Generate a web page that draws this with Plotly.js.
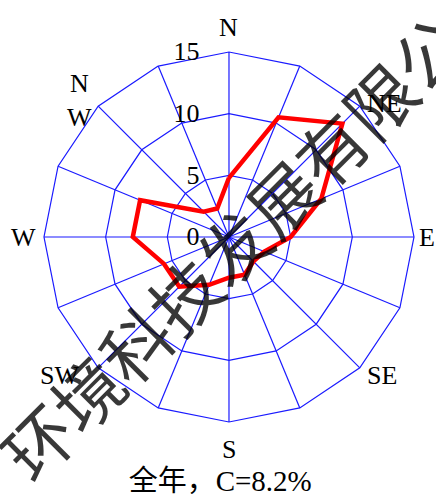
<!DOCTYPE html>
<html>
<head>
<meta charset="utf-8">
<script src="https://cdn.plot.ly/plotly-3.0.1.min.js"></script>
<style>
  html, body { margin: 0; padding: 0; background: #fff; }
  #chart { width: 436px; height: 499px; }
</style>
</head>
<body>
<div id="chart"></div>
<script>
// 16 wind directions (clockwise from north)
const directions = ['N','NNE','NE','ENE','E','ESE','SE','SSE','S','SSW','SW','WSW','W','WNW','NW','NNW'];
// wind direction frequency (%)
const frequency = [4.8, 10.5, 13.0, 8.1, 5.0, 3.1, 2.8, 3.3, 3.3, 4.2, 5.7, 5.7, 7.8, 7.8, 2.9, 2.5];
// labelled main directions and their text
const labelDirections = ['N','NE','E','SE','S','SW','W','NW'];
const labelTexts = ['N','NE','E','SE','S','SW','W','N<br>W'];
// radial ticks
const radialTicks = [0, 5, 10, 15];
const radialTickText = ['0', '5', '10', '15'];
const titleText = '全年，C=8.2%';
const watermarkText = '环境科技发展有限公司';

// close the loop
const rClosed = frequency.concat([frequency[0]]);
const thetaClosed = directions.concat([directions[0]]);

const W = 436, H = 499;
const serif = 'Liberation Serif, Times New Roman, Noto Sans CJK SC, serif';
const gridBlue = '#1a1aff';
const polarDomain = { x: [0.1009, 0.9495], y: [0.1543, 0.8958] };
// label placement: distance from centre relative to the outer ring, plus small pixel nudges
const labelOffset = [1.135, 1.10, 1.07, 1.11, 1.15, 1.18, 1.11, 1.10];
const labelNudgeX = [0, 12, 0, 8, 0, -15, 0, -6];
const labelNudgeY = [0, -10, 0, 7, 0, 16, 0, -7];

const cx = (polarDomain.x[0] + polarDomain.x[1]) / 2 * W;
const cy = (polarDomain.y[0] + polarDomain.y[1]) / 2 * H;
const outerR = Math.min((polarDomain.x[1] - polarDomain.x[0]) * W, (polarDomain.y[1] - polarDomain.y[0]) * H) / 2;
const dirAnnotations = labelDirections.map((d, i) => {
  const ang = directions.indexOf(d) * 22.5 * Math.PI / 180;
  const rr = outerR * labelOffset[i];
  return {
    text: labelTexts[i],
    xref: 'paper', yref: 'paper',
    x: (cx + rr * Math.sin(ang)) / W,
    y: (cy + rr * Math.cos(ang)) / H,
    xshift: labelNudgeX[i],
    yshift: labelNudgeY[i],
    xanchor: 'center', yanchor: 'middle',
    showarrow: false,
    font: { family: serif, size: 26, color: '#000' }
  };
});

const data = [{
  type: 'scatterpolar',
  mode: 'lines',
  r: rClosed,
  theta: thetaClosed,
  line: { color: '#ff0000', width: 4.5 },
  hoverinfo: 'skip',
  showlegend: false
}];

const layout = {
  width: W,
  height: H,
  margin: { l: 0, r: 0, t: 0, b: 0 },
  paper_bgcolor: '#ffffff',
  showlegend: false,
  title: {
    text: titleText,
    x: 0.505,
    xanchor: 'center',
    y: 0.036,
    yanchor: 'middle',
    font: { family: serif, size: 29, color: '#000' }
  },
  polar: {
    domain: polarDomain,
    bgcolor: 'rgba(0,0,0,0)',
    gridshape: 'linear',
    angularaxis: {
      type: 'category',
      categoryorder: 'array',
      categoryarray: directions,
      direction: 'clockwise',
      rotation: 90,
      tickmode: 'array',
      tickvals: directions,
      ticktext: directions,
      showticklabels: false,
      showgrid: true,
      gridcolor: gridBlue,
      gridwidth: 1.2,
      showline: true,
      linecolor: gridBlue,
      linewidth: 1.2,
      ticks: ''
    },
    radialaxis: {
      range: [0, 15],
      angle: 90,
      side: 'counterclockwise',
      tickmode: 'array',
      tickvals: radialTicks,
      ticktext: radialTickText,
      showline: false,
      linecolor: 'rgba(0,0,0,0)',
      showgrid: true,
      gridcolor: gridBlue,
      gridwidth: 1.2,
      ticks: 'outside',
      ticklen: 20,
      tickcolor: 'rgba(0,0,0,0)',
      tickangle: 90,
      tickfont: { family: serif, size: 26, color: '#000' }
    }
  },
  annotations: dirAnnotations.concat([{
    text: watermarkText,
    xref: 'paper', yref: 'paper',
    x: 0.588, y: 0.558,
    xanchor: 'center', yanchor: 'middle',
    showarrow: false,
    textangle: -45,
    font: { family: 'Noto Sans CJK SC', size: 69, color: 'rgba(0,0,0,0.78)' }
  }])
};

Plotly.newPlot('chart', data, layout, { displayModeBar: false, staticPlot: true });
</script>
</body>
</html>
